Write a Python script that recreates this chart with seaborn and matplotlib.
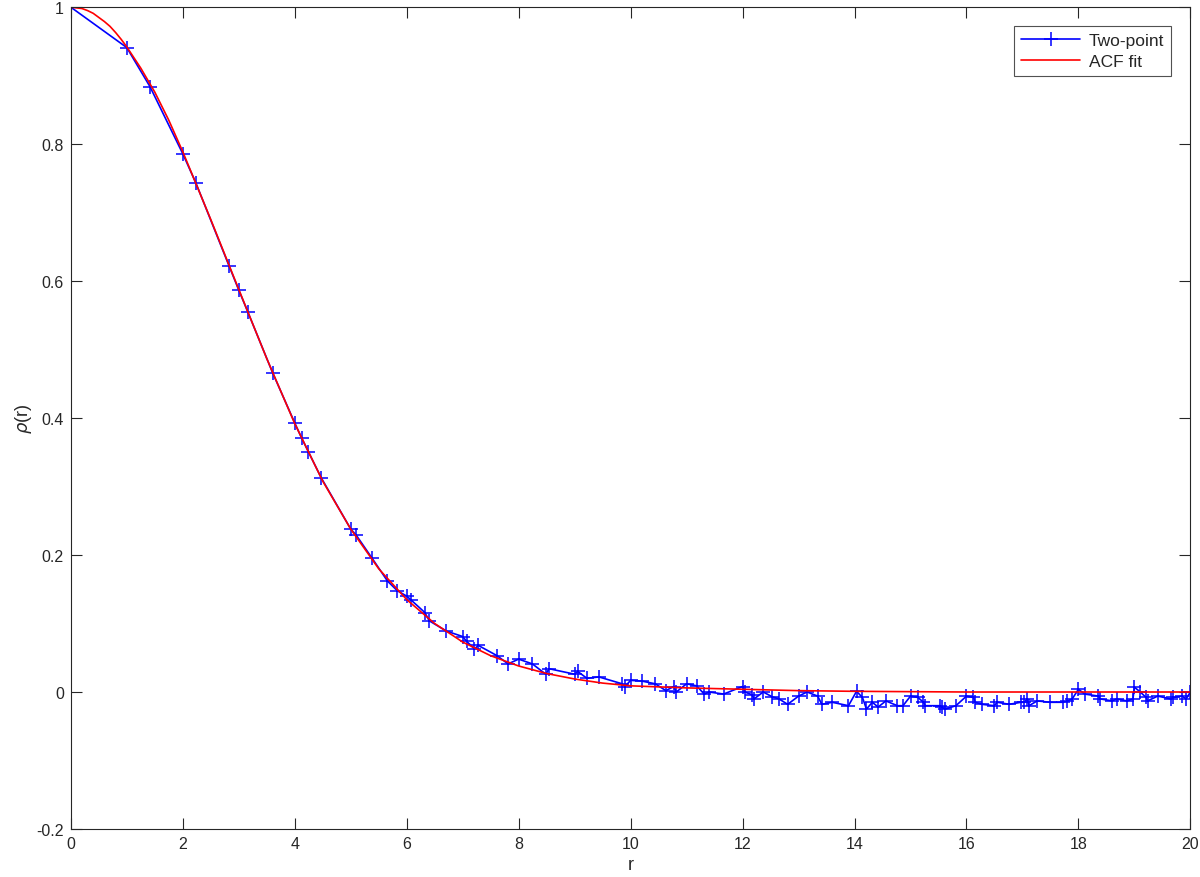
import numpy as np
import pandas as pd
import matplotlib
matplotlib.use('Agg')
import matplotlib.pyplot as plt
import seaborn as sns
from matplotlib.ticker import FormatStrFormatter

# two-point correlation estimate
r_two = [0.0, 1.0, 1.414, 2.0, 2.236, 2.828, 3.0, 3.162, 3.606, 4.0,
         4.123, 4.243, 4.472, 5.0, 5.099, 5.385, 5.657, 5.831, 6.0, 6.083,
         6.325, 6.403, 6.708, 7.0, 7.071, 7.211, 7.280, 7.616, 7.810, 8.0,
         8.246, 8.485, 8.544, 9.0, 9.055, 9.220, 9.434, 9.849, 9.899, 10.0,
         10.198, 10.440, 10.630, 10.770, 10.817, 11.0, 11.180, 11.314, 11.402, 11.662,
         12.0, 12.042, 12.166, 12.207, 12.369, 12.530, 12.649, 12.806, 13.0, 13.153,
         13.342, 13.416, 13.601, 13.892, 14.036, 14.142, 14.213, 14.318, 14.422, 14.560,
         14.765, 14.866, 15.0, 15.133, 15.232, 15.264, 15.524, 15.556, 15.620, 15.811,
         16.0, 16.125, 16.155, 16.279, 16.492, 16.553, 16.763, 16.971, 17.029, 17.088,
         17.117, 17.263, 17.493, 17.720, 17.804, 17.889, 18.0, 18.111, 18.358, 18.385,
         18.601, 18.682, 18.868, 18.974, 19.0, 19.105, 19.209, 19.235, 19.416, 19.647,
         19.698, 19.849, 19.925, 20.0]
rho_two = [1.0, 0.941, 0.884, 0.786, 0.743, 0.622, 0.587, 0.555, 0.466, 0.393,
           0.371, 0.351, 0.313, 0.238, 0.229, 0.195, 0.162, 0.148, 0.140, 0.134,
           0.116, 0.104, 0.089, 0.081, 0.074, 0.063, 0.068, 0.053, 0.041, 0.048,
           0.041, 0.026, 0.034, 0.026, 0.030, 0.020, 0.022, 0.012, 0.008, 0.017,
           0.016, 0.012, 0.002, 0.008, 0.0, 0.012, 0.009, -0.003, 0.0, -0.003,
           0.008, 0.0, -0.004, -0.010, 0.0, -0.007, -0.010, -0.018, -0.006, 0.0,
           -0.006, -0.018, -0.015, -0.020, 0.001, -0.008, -0.025, -0.015, -0.022, -0.013,
           -0.020, -0.020, -0.006, -0.008, -0.015, -0.020, -0.020, -0.022, -0.025, -0.020,
           -0.006, -0.008, -0.015, -0.018, -0.020, -0.015, -0.018, -0.015, -0.015, -0.010,
           -0.020, -0.013, -0.015, -0.015, -0.013, -0.010, 0.004, -0.003, -0.006, -0.010,
           -0.013, -0.010, -0.013, -0.010, 0.007, 0.0, -0.008, -0.013, -0.006, -0.010,
           -0.008, -0.006, -0.010, 0.0]

# fitted ACF curve
r_fit = [0.0, 0.1, 0.2, 0.3, 0.4, 0.5, 0.6, 0.7, 0.8, 0.9, 1.0, 1.25, 1.5, 1.75,
         2.0, 2.5, 3.0, 3.5, 4.0, 4.5, 5.0, 5.5, 6.0, 6.5, 7.0, 7.5, 8.0, 8.5,
         9.0, 9.5, 10.0, 11.0, 12.0, 13.0, 14.0, 16.0, 20.0]
rho_fit = [1.0, 0.999, 0.998, 0.995, 0.991, 0.985, 0.979, 0.972, 0.963, 0.953,
           0.942, 0.911, 0.876, 0.835, 0.789, 0.690, 0.588, 0.487, 0.392, 0.308,
           0.238, 0.180, 0.135, 0.100, 0.073, 0.053, 0.038, 0.027, 0.019, 0.013,
           0.009, 0.006, 0.004, 0.002, 0.001, 0.0, 0.0]

two = pd.DataFrame({'r': r_two, 'rho': rho_two})
fit = pd.DataFrame({'r': r_fit, 'rho': rho_fit})

sns.set_theme(style='ticks')
plt.rcParams['font.family'] = ['Liberation Sans', 'DejaVu Sans']
plt.rcParams['axes.unicode_minus'] = False
dark = '#262626'

fig = plt.figure(figsize=(12, 8.78), dpi=100)
ax = fig.add_axes([0.059, 0.0547, 0.933, 0.936])

sns.lineplot(data=two, x='r', y='rho', sort=False, estimator=None, color='blue',
             lw=1.2, marker='+', markersize=10, markeredgewidth=1.1,
             markeredgecolor='blue', label='Two-point', ax=ax)
sns.lineplot(data=fit, x='r', y='rho', sort=False, estimator=None, color='red',
             lw=1.2, label='ACF fit', ax=ax)

ax.set_xlim(0, 20)
ax.set_ylim(-0.2, 1)
ax.set_xticks(np.arange(0, 21, 2))
ax.set_yticks([-0.2, 0, 0.2, 0.4, 0.6, 0.8, 1])
ax.yaxis.set_major_formatter(FormatStrFormatter('%g'))
ax.tick_params(direction='in', length=8, width=0.8, colors=dark, labelsize=11.5,
               top=True, right=True, labelcolor=dark, pad=5)
for s in ax.spines.values():
    s.set_color(dark)
    s.set_linewidth(0.8)
    s.set_visible(True)

ax.set_xlabel('r', fontsize=13, color=dark, labelpad=4)
ax.set_ylabel(r'$\rho$(r)', fontsize=13, color=dark, labelpad=2)

leg = ax.legend(loc='upper right', fontsize=12.5, frameon=True, fancybox=False,
                edgecolor=dark, handlelength=3.4, borderaxespad=1.1,
                borderpad=0.4, labelspacing=0.3, handletextpad=0.5)
leg.get_frame().set_linewidth(0.8)

fig.savefig('out.png', dpi=100)
